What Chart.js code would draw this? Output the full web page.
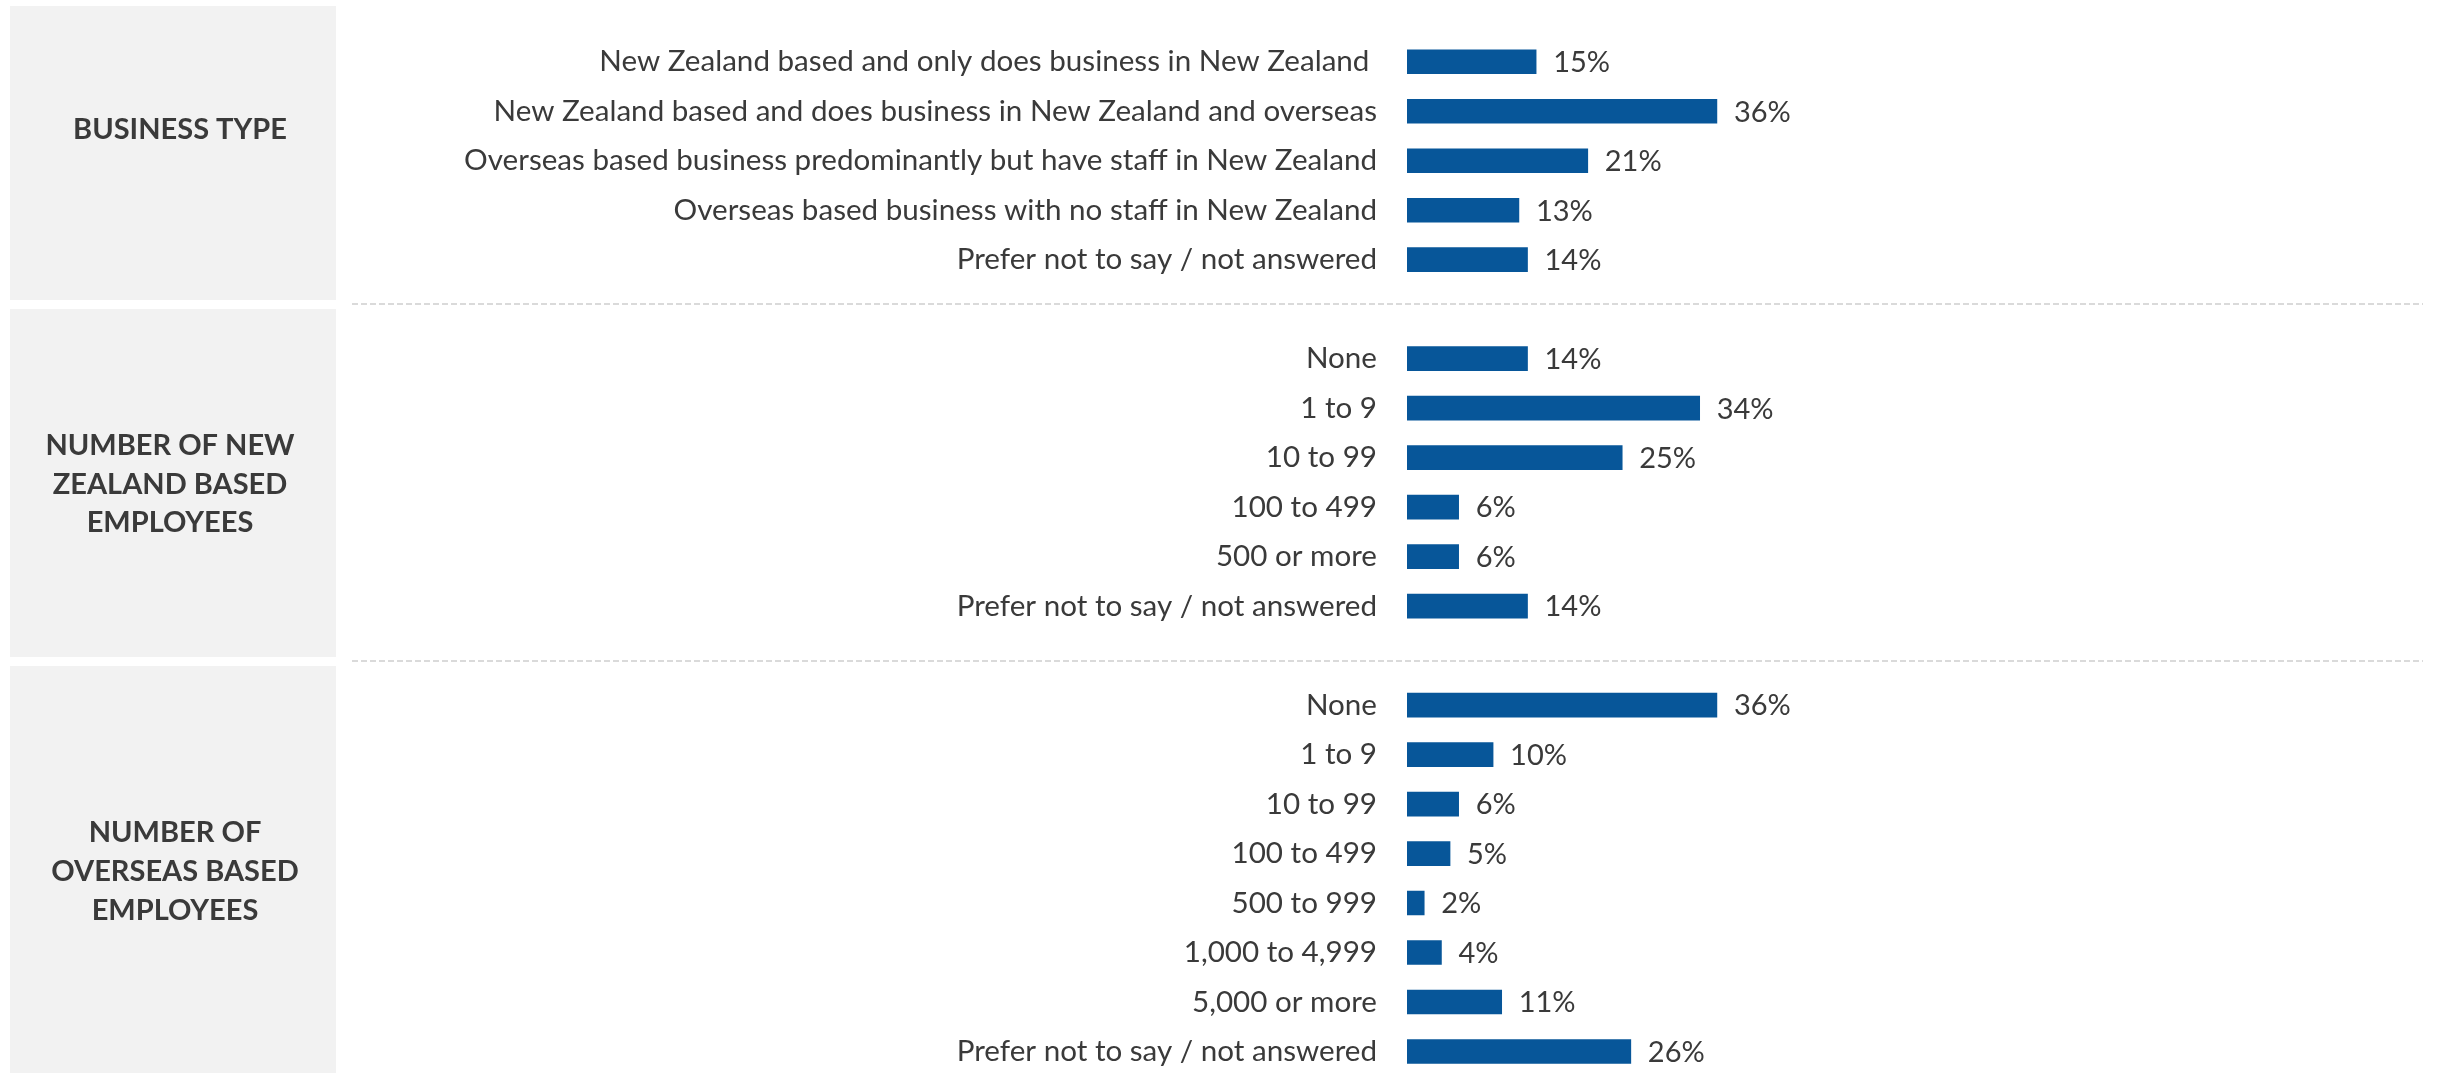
<!DOCTYPE html>
<html>
<head>
<meta charset="utf-8">
<script src="https://cdn.jsdelivr.net/npm/chart.js@4.4.1/dist/chart.umd.min.js"></script>
<style>
    html, body { margin: 0; padding: 0; background: #fff; overflow: hidden; }
    #wrap { position: absolute; left: 0; top: 0; width: 2440px; height: 1094px; }
</style>
</head>
<body>
<div id="wrap"><canvas id="profile-chart"></canvas></div>
<script>
// Chart data
const businessTypeLabels = [
    'New Zealand based and only does business in New Zealand ',
    'New Zealand based and does business in New Zealand and overseas',
    'Overseas based business predominantly but have staff in New Zealand',
    'Overseas based business with no staff in New Zealand',
    'Prefer not to say / not answered'
];
const businessTypeValues = [15, 36, 21, 13, 14];

const nzStaffLabels = ['None', '1 to 9', '10 to 99', '100 to 499', '500 or more', 'Prefer not to say / not answered'];
const nzStaffValues = [14, 34, 25, 6, 6, 14];

const overseasStaffLabels = ['None', '1 to 9', '10 to 99', '100 to 499', '500 to 999', '1,000 to 4,999', '5,000 or more', 'Prefer not to say / not answered'];
const overseasStaffValues = [36, 10, 6, 5, 2, 4, 11, 26];

const groupTitles = [
    ['BUSINESS TYPE'],
    ['NUMBER OF NEW', 'ZEALAND BASED', 'EMPLOYEES'],
    ['NUMBER OF', 'OVERSEAS BASED', 'EMPLOYEES']
];

// one blank row between groups
const labels = [...businessTypeLabels, '', ...nzStaffLabels, '', ...overseasStaffLabels];
const values = [...businessTypeValues, null, ...nzStaffValues, null, ...overseasStaffValues];

const TEXT_COLOR = '#3a3a3a';
const BAR_COLOR = '#075699';
const FONT = 'Lato';

// Side panels, titles and separators
const panelPlugin = {
    id: 'panels',
    beforeDraw(chart) {
        const ctx = chart.ctx;
        const panels = [[6, 300], [309, 657], [666, 1094]];
        const titleX = [180, 170, 175];
        const baselines = [[139], [455, 493.5, 532], [842, 881, 919.5]];
        ctx.save();
        ctx.fillStyle = '#f2f2f2';
        panels.forEach(p => ctx.fillRect(10, p[0], 326, p[1] - p[0]));

        ctx.fillStyle = TEXT_COLOR;
        ctx.font = 'bold 29px ' + FONT;
        ctx.textAlign = 'center';
        ctx.textBaseline = 'alphabetic';
        groupTitles.forEach((lines, i) => {
            lines.forEach((line, j) => ctx.fillText(line, titleX[i], baselines[i][j]));
        });

        ctx.strokeStyle = '#dadada';
        ctx.lineWidth = 2;
        ctx.setLineDash([6, 3]);
        [304, 661].forEach(y => {
            ctx.beginPath();
            ctx.moveTo(352, y);
            ctx.lineTo(2423, y);
            ctx.stroke();
        });
        ctx.restore();
    }
};

// Percent labels at bar ends
const valueLabelPlugin = {
    id: 'valueLabels',
    afterDatasetsDraw(chart) {
        const ctx = chart.ctx;
        const meta = chart.getDatasetMeta(0);
        ctx.save();
        ctx.fillStyle = TEXT_COLOR;
        ctx.font = '29px ' + FONT;
        ctx.textAlign = 'left';
        ctx.textBaseline = 'middle';
        meta.data.forEach((bar, i) => {
            const v = values[i];
            if (v === null) return;
            ctx.fillText(v + '%', bar.x + 17, bar.y + 1);
        });
        ctx.restore();
    }
};

new Chart(document.getElementById('profile-chart'), {
    type: 'bar',
    data: {
        labels: labels,
        datasets: [{
            data: values,
            backgroundColor: BAR_COLOR,
            borderWidth: 0,
            barThickness: 24
        }]
    },
    options: {
        indexAxis: 'y',
        responsive: true,
        maintainAspectRatio: false,
        animation: false,
        layout: { padding: { top: 37, right: 0, bottom: 0, left: 0 } },
        plugins: {
            legend: { display: false },
            tooltip: { enabled: false }
        },
        scales: {
            x: {
                display: false,
                min: 0,
                max: 120
            },
            y: {
                grid: { display: false, drawTicks: true, tickLength: 30 },
                border: { display: false },
                afterFit: scale => { scale.width = 1407; },
                ticks: {
                    autoSkip: false,
                    padding: 0,
                    color: TEXT_COLOR,
                    font: { family: FONT, size: 29.6 }
                }
            }
        }
    },
    plugins: [panelPlugin, valueLabelPlugin]
});
</script>
</body>
</html>
